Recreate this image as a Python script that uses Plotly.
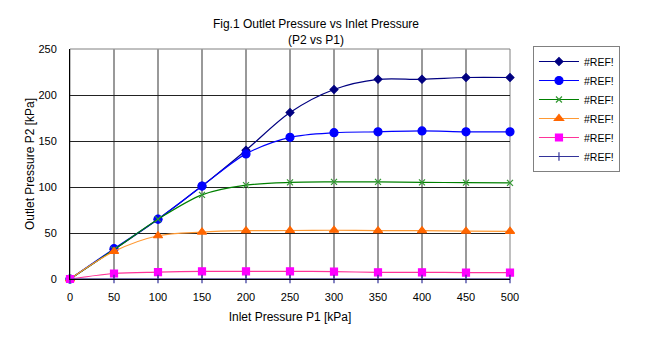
import plotly.graph_objects as go

p1 = [0, 50, 100, 150, 200, 250, 300, 350, 400, 450, 500]
s1 = [0, 32, 65, 101, 140, 181, 206, 217, 217, 219, 219]
s2 = [0, 33, 65, 101, 136, 154, 159, 160, 161, 160, 160]
s3 = [0, 32, 65, 91.5, 102, 105, 105.5, 105.5, 105, 104.8, 104.5]
s4 = [0, 30, 47, 51, 52.5, 52.7, 53, 52.5, 52.5, 52, 51.8]
s5 = [0, 6, 7.5, 8.3, 8.3, 8.3, 8, 7.3, 7.3, 7, 7]
s6 = [0, 0, 0, 0, 0, 0, 0, 0, 0, 0, 0]
names = ["#REF!"] * 6

styles = [
    dict(line="#000080", marker="#000080", symbol="diamond", size=6),
    dict(line="#0000FF", marker="#0000FF", symbol="circle", size=8),
    dict(line="#008000", marker="#339933", symbol="x-thin-open", size=6),
    dict(line="#FF9933", marker="#FF6600", symbol="triangle-up", size=8),
    dict(line="#FF3399", marker="#FF00FF", symbol="square", size=7),
    dict(line="#333399", marker="#333399", symbol="line-ns-open", size=6),
]

fig = go.Figure()
for ys, nm, st in zip([s1, s2, s3, s4, s5, s6], names, styles):
    fig.add_trace(go.Scatter(
        x=p1, y=ys, name=nm, mode="lines+markers", cliponaxis=False,
        line=dict(color=st["line"], width=1.2, shape="spline", smoothing=0.9),
        marker=dict(color=st["marker"], symbol=st["symbol"], size=st["size"],
                    line=dict(color=st["marker"], width=1.2)),
    ))

font = "Liberation Sans, Arial, sans-serif"
fig.update_layout(
    width=658, height=345,
    margin=dict(l=69.5, r=148, t=49, b=66),
    paper_bgcolor="white", plot_bgcolor="white",
    font=dict(family=font, size=11, color="#000000"),
    title=dict(text="Fig.1 Outlet Pressure vs Inlet Pressure<br>(P2 vs P1)",
               x=316/658, xanchor="center", y=1 - 28/345, yanchor="top",
               font=dict(size=12, family=font)),
    showlegend=True,
    legend=dict(x=(533 - 69.5) / 440.5, y=(279 - 46) / 230, xanchor="left", yanchor="top",
                bordercolor="#808080", borderwidth=1, bgcolor="white",
                font=dict(size=10.5, family=font), tracegroupgap=0,
                itemwidth=40),
    xaxis=dict(range=[0, 500], tickvals=p1, ticks="", showgrid=True,
               gridcolor="#999999", gridwidth=1.5, zeroline=False,
               showline=True, linecolor="#000000", mirror=False,
               ticklabelstandoff=8,
               title=dict(text="Inlet Pressure P1 [kPa]", font=dict(size=12), standoff=10),
               tickfont=dict(size=11)),
    yaxis=dict(range=[0, 250], tickvals=[0, 50, 100, 150, 200, 250], ticks="",
               showgrid=True, gridcolor="#222222", gridwidth=1, zeroline=False,
               showline=True, linecolor="#000000",
               ticklabelstandoff=10,
               title=dict(text="Outlet Pressure P2 [kPa]", font=dict(size=12), standoff=1),
               tickfont=dict(size=11)),
)
fig.add_shape(type="rect", xref="paper", yref="paper", x0=0, y0=0, x1=1, y1=1,
              line=dict(color="#808080", width=1), layer="below")
fig.write_html("out.html")
